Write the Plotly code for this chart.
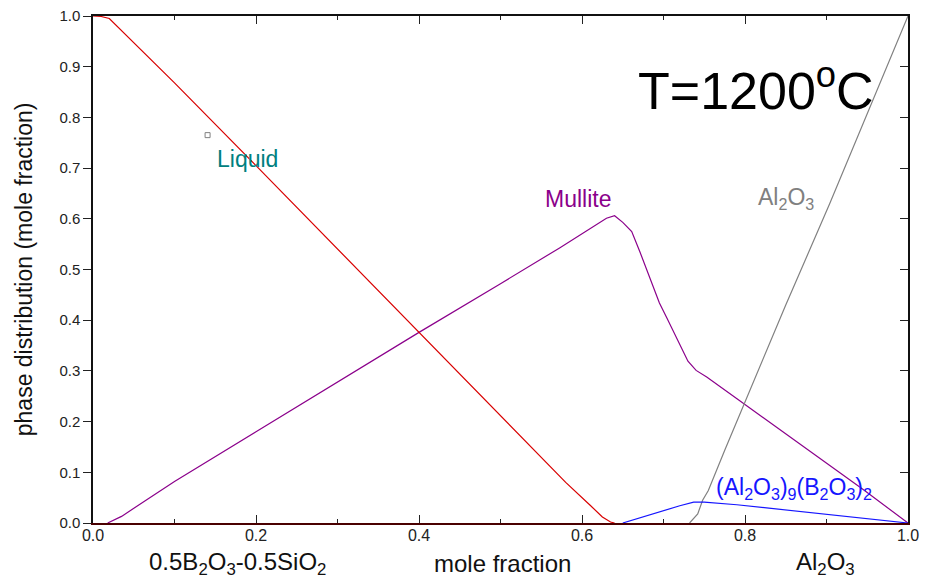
import plotly.graph_objects as go

# ---- data ----
liquid_x = [0.0, 0.01, 0.02, 0.1, 0.2, 0.3, 0.4, 0.5, 0.58, 0.61, 0.625, 0.635, 0.64]
liquid_y = [1.0, 0.999, 0.995, 0.868, 0.705, 0.540, 0.375, 0.21, 0.08, 0.035, 0.012, 0.002, 0.0]

mullite_x = [0.018, 0.035, 0.065, 0.1, 0.2, 0.3, 0.4, 0.5, 0.573, 0.63, 0.64, 0.65, 0.661,
             0.671, 0.683, 0.695, 0.704, 0.716, 0.73, 0.74, 0.753, 0.791, 0.945, 1.0]
mullite_y = [0.0, 0.013, 0.045, 0.082, 0.18, 0.278, 0.376, 0.472, 0.543, 0.601, 0.606, 0.593, 0.575,
             0.535, 0.483, 0.434, 0.405, 0.365, 0.319, 0.301, 0.288, 0.244, 0.066, 0.0]

al2o3_x = [0.732, 0.742, 0.748, 0.755, 0.775, 0.85, 0.904, 0.992, 1.0]
al2o3_y = [0.0, 0.018, 0.045, 0.064, 0.143, 0.43, 0.63, 0.967, 1.0]

ab_x = [0.65, 0.70, 0.72, 0.737, 0.75, 0.79, 0.86, 0.93, 0.975, 1.0]
ab_y = [0.0, 0.025, 0.034, 0.041, 0.041, 0.036, 0.024, 0.012, 0.004, 0.0]

x_tickvals = [0.0, 0.2, 0.4, 0.6, 0.8, 1.0]
x_ticktext = ["0.0", "0.2", "0.4", "0.6", "0.8", "1.0"]
y_tickvals = [0.0, 0.1, 0.2, 0.3, 0.4, 0.5, 0.6, 0.7, 0.8, 0.9, 1.0]
y_ticktext = ["0.0", "0.1", "0.2", "0.3", "0.4", "0.5", "0.6", "0.7", "0.8", "0.9", "1.0"]

FONT = "Liberation Sans, Arial, sans-serif"
RED = "#d80000"
PURPLE = "#8b008b"
BLUE = "#1515ff"
GRAY = "#808080"
TEAL = "#008080"

fig = go.Figure()
fig.add_trace(go.Scatter(x=mullite_x, y=mullite_y, mode="lines", line=dict(color=PURPLE, width=1.2), showlegend=False))
fig.add_trace(go.Scatter(x=al2o3_x, y=al2o3_y, mode="lines", line=dict(color=GRAY, width=1.2), showlegend=False))
fig.add_trace(go.Scatter(x=ab_x, y=ab_y, mode="lines", line=dict(color=BLUE, width=1.2), showlegend=False))
fig.add_trace(go.Scatter(x=liquid_x, y=liquid_y, mode="lines", line=dict(color=RED, width=1.2), showlegend=False))
# small label anchor marker near "Liquid"
fig.add_trace(go.Scatter(x=[0.1406], y=[0.765], mode="markers",
                         marker=dict(symbol="square-open", size=5, color=GRAY, line=dict(width=1)),
                         showlegend=False))
# helper invisible trace for mirrored axes (top/right)
fig.add_trace(go.Scatter(x=[0, 1], y=[0, 1], xaxis="x2", yaxis="y2", mode="lines",
                         line=dict(width=0), opacity=0, showlegend=False, hoverinfo="skip"))

fig.update_layout(
    width=930, height=579,
    margin=dict(l=85.4, r=29.7, t=7.5, b=64.3, autoexpand=False),
    paper_bgcolor="white", plot_bgcolor="white",
    font=dict(family=FONT, color="#222222"),
    xaxis=dict(range=[0, 1], tickvals=x_tickvals, ticktext=x_ticktext,
               ticks="inside", ticklen=8, tickwidth=1, tickcolor="#222222",
               minor=dict(dtick=0.1, tick0=0, ticks="inside", ticklen=4, tickcolor="#222222"),
               showline=True, linecolor="#4a0000", linewidth=2, mirror=False, automargin=False,
               showgrid=False, zeroline=False, tickfont=dict(size=16, family=FONT, color="#222222"),
               ticklabelstandoff=-3, ticklabeloverflow="allow"),
    yaxis=dict(range=[0, 1], tickvals=y_tickvals, ticktext=y_ticktext,
               ticks="outside", ticklen=8, tickwidth=1, tickcolor="#222222", automargin=False,
               showline=True, linecolor="#111111", linewidth=1.5, ticklabeloverflow="allow",
               showgrid=False, zeroline=False, tickfont=dict(size=15, family=FONT, color="#222222")),
    xaxis2=dict(range=[0, 1], overlaying="x", side="top", tickvals=x_tickvals,
                ticks="inside", ticklen=8, tickcolor="#222222", automargin=False,
                minor=dict(dtick=0.1, tick0=0, ticks="inside", ticklen=4, tickcolor="#222222"),
                showticklabels=False, showline=True, linecolor="#111111", linewidth=1.5,
                showgrid=False, zeroline=False),
    yaxis2=dict(range=[0, 1], overlaying="y", side="right", tickvals=y_tickvals,
                ticks="inside", ticklen=8, tickcolor="#222222", automargin=False,
                showticklabels=False, showline=True, linecolor="#111111", linewidth=1.5,
                showgrid=False, zeroline=False),
)

ann = []
ann.append(dict(x=0.19, y=0.718, xref="x", yref="y", text="Liquid", showarrow=False,
                font=dict(size=23, color=TEAL, family=FONT), xanchor="center", yanchor="middle"))
ann.append(dict(x=0.5945, y=0.639, xref="x", yref="y", text="Mullite", showarrow=False,
                font=dict(size=23, color=PURPLE, family=FONT), xanchor="center", yanchor="middle"))
ann.append(dict(x=0.85, y=0.64, xref="x", yref="y", text="Al<sub>2</sub>O<sub>3</sub>", showarrow=False,
                font=dict(size=23, color=GRAY, family=FONT), xanchor="center", yanchor="middle"))
ann.append(dict(x=0.860, y=0.068, xref="x", yref="y",
                text="(Al<sub>2</sub>O<sub>3</sub>)<sub>9</sub>(B<sub>2</sub>O<sub>3</sub>)<sub>2</sub>",
                showarrow=False, font=dict(size=23, color=BLUE, family=FONT), xanchor="center", yanchor="middle"))
ann.append(dict(x=0.813, y=0.859, xref="x", yref="y", text="T=1200<sup>o</sup>C", showarrow=False,
                font=dict(size=52, color="black", family=FONT), xanchor="center", yanchor="middle"))
# axis titles
ann.append(dict(x=-0.085, y=0.5, xref="paper", yref="paper", text="phase distribution (mole fraction)",
                textangle=-90, showarrow=False, font=dict(size=23, color="#111111", family=FONT),
                xanchor="center", yanchor="middle"))
ann.append(dict(x=0.1774, y=-0.079, xref="paper", yref="paper", text="0.5B<sub>2</sub>O<sub>3</sub>-0.5SiO<sub>2</sub>",
                showarrow=False, font=dict(size=24, color="#111111", family=FONT), xanchor="center", yanchor="middle"))
ann.append(dict(x=0.5027, y=-0.079, xref="paper", yref="paper", text="mole fraction",
                showarrow=False, font=dict(size=24, color="#111111", family=FONT), xanchor="center", yanchor="middle"))
ann.append(dict(x=0.899, y=-0.079, xref="paper", yref="paper", text="Al<sub>2</sub>O<sub>3</sub>",
                showarrow=False, font=dict(size=24, color="#111111", family=FONT), xanchor="center", yanchor="middle"))
fig.update_layout(annotations=ann)

fig.write_html("out.html")
